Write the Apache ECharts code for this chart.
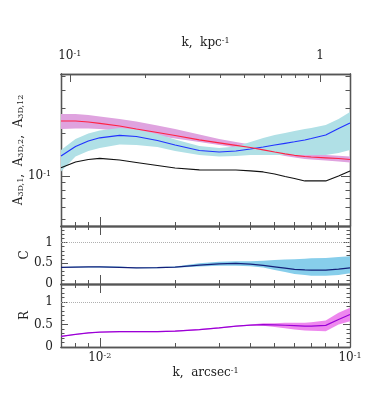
<!DOCTYPE html>
<html>
<head>
<meta charset="utf-8">
<script src="https://cdn.jsdelivr.net/npm/echarts@6/dist/echarts.min.js"></script>
<style>
  html, body { margin: 0; padding: 0; background: #fff; }
  #chart { width: 374px; height: 410px; }
</style>
</head>
<body>
<div id="chart"></div>
<script>
//Données (k en arcsec^-1)
const kArc = [0.007, 0.008, 0.009, 0.01, 0.012, 0.014, 0.017, 0.02, 0.025, 0.03, 0.035,
  0.04, 0.045, 0.05, 0.055, 0.06, 0.066, 0.07, 0.08, 0.09, 0.1];

const a1 = [0.1143, 0.1253, 0.1304, 0.1330, 0.1294, 0.1243, 0.1184, 0.1137, 0.1105, 0.1101, 0.1101,
  0.1087, 0.1067, 0.1033, 0.0992, 0.0960, 0.0923, 0.0923, 0.0923, 0.1000, 0.1084];

const a2 = [0.1380, 0.1608, 0.1757, 0.1850, 0.1926, 0.1889, 0.1771, 0.1647, 0.1508, 0.1472, 0.1496,
  0.1545, 0.1595, 0.1647, 0.1693, 0.1735, 0.1785, 0.1829, 0.1935, 0.2148, 0.2348];
const a2Lo = [0.1075, 0.1369, 0.1496, 0.1570, 0.1661, 0.1647, 0.1595, 0.1496, 0.1403, 0.1369, 0.1380,
  0.1403, 0.1403, 0.1403, 0.1403, 0.1403, 0.1403, 0.1403, 0.1403, 0.1448, 0.1520];
const a2Hi = [0.1520, 0.1815, 0.1983, 0.2080, 0.2166, 0.2115, 0.1967, 0.1800, 0.1621, 0.1570, 0.1608,
  0.1729, 0.1844, 0.1935, 0.1999, 0.2064, 0.2132, 0.2166, 0.2273, 0.2504, 0.2803];

const a12 = [0.2424, 0.2424, 0.2385, 0.2336, 0.2237, 0.2132, 0.2015, 0.1920, 0.1791, 0.1707, 0.1639,
  0.1582, 0.1525, 0.1472, 0.1430, 0.1396, 0.1369, 0.1358, 0.1341, 0.1326, 0.1304];
const a12Lo = [0.2132, 0.2148, 0.2148, 0.2132, 0.2064, 0.1999, 0.1905, 0.1829, 0.1729, 0.1647, 0.1582,
  0.1520, 0.1472, 0.1425, 0.1380, 0.1347, 0.1315, 0.1304, 0.1283, 0.1263, 0.1243];
const a12Hi = [0.2714, 0.2714, 0.2671, 0.2607, 0.2504, 0.2405, 0.2255, 0.2132, 0.1951, 0.1815, 0.1729,
  0.1661, 0.1595, 0.1532, 0.1484, 0.1448, 0.1425, 0.1414, 0.1403, 0.1385, 0.1369];

const cVal = [0.400, 0.408, 0.412, 0.415, 0.403, 0.391, 0.396, 0.408, 0.456, 0.487, 0.496,
  0.480, 0.448, 0.415, 0.384, 0.355, 0.341, 0.336, 0.336, 0.360, 0.391];
const cLo = [0.39, 0.40, 0.40, 0.40, 0.39, 0.38, 0.38, 0.39, 0.42, 0.44, 0.44,
  0.43, 0.40, 0.34, 0.29, 0.24, 0.22, 0.20, 0.20, 0.22, 0.26];
const cHi = [0.41, 0.42, 0.42, 0.43, 0.42, 0.40, 0.41, 0.42, 0.50, 0.54, 0.55,
  0.55, 0.56, 0.58, 0.59, 0.60, 0.61, 0.62, 0.63, 0.65, 0.67];

const rVal = [0.235, 0.280, 0.313, 0.329, 0.340, 0.342, 0.342, 0.353, 0.385, 0.425, 0.463,
  0.485, 0.499, 0.492, 0.483, 0.474, 0.465, 0.465, 0.481, 0.611, 0.723];
const rLo = [0.225, 0.27, 0.30, 0.32, 0.33, 0.33, 0.33, 0.34, 0.37, 0.41, 0.45,
  0.47, 0.47, 0.447, 0.414, 0.391, 0.369, 0.362, 0.351, 0.50, 0.575];
const rHi = [0.245, 0.29, 0.325, 0.34, 0.35, 0.355, 0.355, 0.365, 0.40, 0.44, 0.475,
  0.50, 0.526, 0.526, 0.537, 0.537, 0.537, 0.548, 0.588, 0.76, 0.87];

//Graduations
const arcMinor = [0.008, 0.009, 0.02, 0.03, 0.04, 0.05, 0.06, 0.07, 0.08, 0.09];
const arcMajor = [0.01, 0.1];
const kpcMinor = [0.2, 0.3, 0.4, 0.5, 0.6, 0.7, 0.8, 0.9];
const kpcMajor = [0.1, 1];
const aMinor = [0.05, 0.06, 0.07, 0.08, 0.09, 0.2, 0.3, 0.4, 0.5];
const aMajor = [0.1];

//Conversion arcsec -> kpc
const kpcPerArc = 13.18;
const kMin = 0.007, kMax = 0.1;
const aMin = 0.0447, aMax = 0.5168;

const FONT = 'DejaVu Serif';
const frame = '#555';

let chart = echarts.init(document.getElementById('chart'));

const supRich = {
  s: { fontSize: 8, lineHeight: 8, verticalAlign: 'top', fontFamily: FONT, color: '#222' }
};
const powFmt = v => {
  const p = Math.round(Math.log10(v));
  return p === 0 ? '1' : '10{s|' + p + '}';
};

function logAxis(grid, pos, min, max, ticks, len, extra) {
  return Object.assign({
    type: 'log', logBase: 10, gridIndex: grid, position: pos, min: min, max: max,
    axisLine: { show: true, onZero: false, lineStyle: { color: frame, width: 1.3 } },
    axisTick: { show: true, inside: true, length: len, customValues: ticks, lineStyle: { color: frame, width: 1 } },
    axisLabel: { show: false },
    splitLine: { show: false }
  }, extra || {});
}

function valAxis(grid, pos, extra) {
  return Object.assign({
    type: 'value', gridIndex: grid, position: pos, min: 0, max: 1.4, interval: 0.5,
    axisLine: { show: true, onZero: false, lineStyle: { color: frame, width: 1.3 } },
    axisTick: { show: true, inside: true, length: 7, lineStyle: { color: frame, width: 1 } },
    minorTick: { show: true, splitNumber: 5, length: 3.5, lineStyle: { color: frame, width: 1 } },
    axisLabel: { show: false },
    splitLine: { show: false }
  }, extra || {});
}

const labelStyle = { fontFamily: FONT, fontSize: 12, color: '#222', rich: supRich };
const nameStyle = { fontFamily: FONT, fontSize: 12, color: '#222', rich: supRich };

const xAxes = [];
const yAxes = [];
for (let g = 0; g < 3; g++) {
  xAxes.push(logAxis(g, 'bottom', kMin, kMax, arcMinor, 4));
  xAxes.push(logAxis(g, 'bottom', kMin, kMax, arcMajor, 9, g === 2 ? {
    axisLabel: Object.assign({ show: true, margin: 5, customValues: arcMajor, formatter: powFmt }, labelStyle),
    name: 'k,  arcsec{s|-1}', nameLocation: 'middle', nameGap: 20,
    nameTextStyle: nameStyle
  } : {}));
  if (g === 0) {
    xAxes.push(logAxis(g, 'top', kMin * kpcPerArc, kMax * kpcPerArc, kpcMinor, 4));
    xAxes.push(logAxis(g, 'top', kMin * kpcPerArc, kMax * kpcPerArc, kpcMajor, 8, {
      axisLabel: Object.assign({ show: true, margin: 12, customValues: kpcMajor, formatter: powFmt }, labelStyle),
      name: 'k,  kpc{s|-1}', nameLocation: 'middle', nameGap: 25,
      nameTextStyle: nameStyle
    }));
  } else {
    xAxes.push(logAxis(g, 'top', kMin, kMax, arcMinor, 4));
    xAxes.push(logAxis(g, 'top', kMin, kMax, arcMajor, 9));
  }
}

//Panneau du haut : axes log
yAxes.push(logAxis(0, 'left', aMin, aMax, aMinor, 4.5));
yAxes.push(logAxis(0, 'left', aMin, aMax, aMajor, 9, {
  axisLabel: Object.assign({ show: true, margin: 10, customValues: aMajor, formatter: powFmt }, labelStyle),
  name: 'A{b|3D,1},  A{b|3D,2},  A{b|3D,12}', nameLocation: 'middle', nameGap: 36, nameRotate: 90,
  nameMoveOverlap: false,
  nameTextStyle: {
    fontFamily: FONT, fontSize: 12, color: '#222',
    rich: { b: { fontSize: 8, lineHeight: 8, verticalAlign: 'bottom', fontFamily: FONT, color: '#222' } }
  }
}));
yAxes.push(logAxis(0, 'right', aMin, aMax, aMinor, 4.5));
yAxes.push(logAxis(0, 'right', aMin, aMax, aMajor, 9));

//Panneaux C et R
['C', 'R'].forEach((nm, i) => {
  yAxes.push(valAxis(i + 1, 'left', {
    axisLabel: Object.assign({ show: true, margin: 8, customValues: [0, 0.5, 1] }, labelStyle),
    name: nm, nameLocation: 'middle', nameGap: 30, nameRotate: 90, nameMoveOverlap: false,
    nameTextStyle: nameStyle
  }));
  yAxes.push(valAxis(i + 1, 'right'));
});

function band(xi, yi, lo, hi, color) {
  return {
    type: 'custom', xAxisIndex: xi, yAxisIndex: yi, silent: true, z: 1,
    data: kArc.map((k, i) => [k, lo[i], hi[i]]),
    renderItem: (params, api) => {
      if (params.dataIndex !== 0) return;
      const top = kArc.map((k, i) => api.coord([k, hi[i]]));
      const bot = kArc.map((k, i) => api.coord([k, lo[i]])).reverse();
      return { type: 'polygon', shape: { points: top.concat(bot) }, style: { fill: color } };
    }
  };
}

function line(xi, yi, vals, color, extra) {
  return Object.assign({
    type: 'line', xAxisIndex: xi, yAxisIndex: yi, showSymbol: false, silent: true, z: 3,
    lineStyle: { color: color, width: 1.2 },
    data: kArc.map((k, i) => [k, vals[i]])
  }, extra || {});
}

const oneLine = {
  markLine: {
    silent: true, symbol: 'none', label: { show: false },
    lineStyle: { color: '#b0b0b0', type: 'dotted', width: 1 },
    data: [{ yAxis: 1 }]
  }
};

chart.setOption({
  animation: false,
  backgroundColor: '#fff',
  grid: [
    { left: 61, top: 74, width: 289, height: 152 },
    { left: 61, top: 226, width: 289, height: 58 },
    { left: 61, top: 284, width: 289, height: 63 }
  ],
  xAxis: xAxes,
  yAxis: yAxes,
  series: [
    band(0, 0, a12Lo, a12Hi, '#dfa3df'),
    band(0, 0, a2Lo, a2Hi, '#b0e0e6'),
    line(0, 0, a1, '#111'),
    line(0, 0, a2, '#2233ff'),
    line(0, 0, a12, '#ff2244'),
    band(4, 4, cLo, cHi, '#87ceeb'),
    line(4, 4, cVal, '#14207a', oneLine),
    band(8, 6, rLo, rHi, '#ee88ee'),
    line(8, 6, rVal, '#9900d6', oneLine)
  ]
});

window.addEventListener('resize', () => chart.resize());
</script>
</body>
</html>
